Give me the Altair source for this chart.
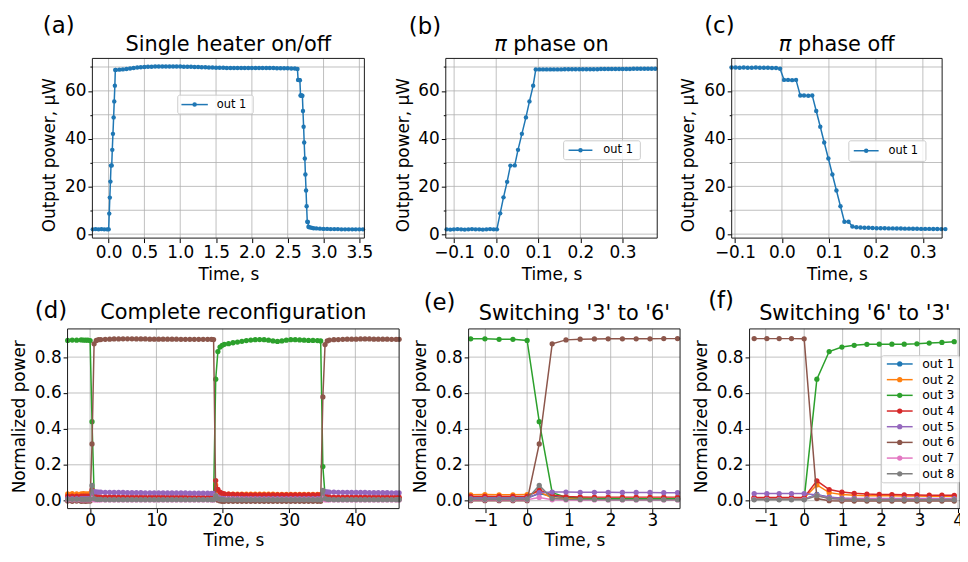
import altair as alt
import pandas as pd

FONT = "DejaVu Sans"
SERIES = ["out 1", "out 2", "out 3", "out 4", "out 5", "out 6", "out 7", "out 8"]
COLORS = ["#1f77b4", "#ff7f0e", "#2ca02c", "#d62728", "#9467bd", "#8c564b", "#e377c2", "#7f7f7f"]

# ---------------- (a) single heater on/off ----------------
a_time = [-0.22, -0.18, -0.14, -0.10, -0.06, -0.02,
          0.0016, 0.0094, 0.0173, 0.0259, 0.0337, 0.044, 0.0518, 0.061, 0.0706, 0.079, 0.0878, 0.094,
          0.10, 0.15, 0.20, 0.25, 0.30, 0.35, 0.40, 0.45, 0.50, 0.55,
          0.60, 0.65, 0.70, 0.75, 0.80, 0.85, 0.90, 0.95, 1.00, 1.05,
          1.10, 1.15, 1.20, 1.25, 1.30, 1.35, 1.40, 1.45, 1.50, 1.55,
          1.60, 1.65, 1.70, 1.75, 1.80, 1.85, 1.90, 1.95, 2.00, 2.05,
          2.10, 2.15, 2.20, 2.25, 2.30, 2.35, 2.40, 2.45, 2.50, 2.55, 2.60,
          2.636, 2.645, 2.653, 2.662, 2.670, 2.679, 2.688, 2.696, 2.705, 2.713,
          2.722, 2.730, 2.739, 2.747, 2.756, 2.764, 2.773, 2.781, 2.790,
          2.80, 2.83, 2.86, 2.90, 2.95, 3.00, 3.05, 3.10, 3.15, 3.20,
          3.25, 3.30, 3.35, 3.40, 3.45, 3.50, 3.55]
a_power = [2.0, 2.1, 2.0, 2.1, 2.0, 2.0,
           2.0, 8.6, 15.3, 22.0, 28.7, 28.8, 35.3, 42.0, 48.9, 55.6, 62.2, 68.8,
           68.8, 68.9, 69.0, 69.2, 69.4, 69.6, 69.8, 69.9, 70.0, 70.1,
           70.1, 70.2, 70.2, 70.2, 70.2, 70.2, 70.2, 70.2, 70.2, 70.1,
           70.1, 70.1, 70.0, 70.0, 69.9, 69.9, 69.8, 69.8, 69.7, 69.7,
           69.7, 69.6, 69.6, 69.6, 69.6, 69.6, 69.6, 69.6, 69.6, 69.6,
           69.6, 69.6, 69.6, 69.6, 69.6, 69.5, 69.5, 69.5, 69.5, 69.4, 69.4,
           69.2, 64.6, 64.6, 64.5, 64.5, 58.1, 58.1, 58.0, 58.0, 51.6,
           45.0, 38.4, 31.7, 25.0, 18.3, 11.7, 5.2, 5.1, 3.1,
           2.9, 2.7, 2.5, 2.4, 2.3, 2.2, 2.2, 2.1, 2.1, 2.1,
           2.0, 2.0, 2.0, 2.0, 2.0, 2.0, 2.0]

# ---------------- (b) pi phase on ----------------
b_time = [-0.1178, -0.1092, -0.1006, -0.0920, -0.0834, -0.0748, -0.0662, -0.0576, -0.0490, -0.0404,
          -0.0318, -0.0232, -0.0146, -0.0060,
          0.0016, 0.0094, 0.0173, 0.0259, 0.0337, 0.0440, 0.0518, 0.0610, 0.0706, 0.0790, 0.0878, 0.0940,
          0.1026, 0.1112, 0.1198, 0.1284, 0.1370, 0.1456, 0.1542, 0.1628, 0.1714, 0.1800,
          0.1886, 0.1972, 0.2058, 0.2144, 0.2230, 0.2316, 0.2402, 0.2488, 0.2574, 0.2660,
          0.2746, 0.2832, 0.2918, 0.3004, 0.3090, 0.3176, 0.3262, 0.3348, 0.3434, 0.3520,
          0.3606, 0.3692, 0.3778]
b_power = [2.0, 1.9, 2.0, 2.1, 2.0, 1.9, 2.0, 2.1, 2.0, 2.0,
           1.9, 2.0, 2.1, 2.0,
           2.0, 8.7, 15.4, 21.9, 28.7, 28.8, 35.3, 42.0, 48.9, 55.6, 62.2, 69.0,
           69.0, 69.0, 69.0, 69.0, 69.0, 69.0, 69.0, 69.1, 69.1, 69.1,
           69.1, 69.1, 69.1, 69.1, 69.1, 69.1, 69.1, 69.2, 69.2, 69.2,
           69.2, 69.2, 69.2, 69.2, 69.2, 69.2, 69.3, 69.3, 69.3, 69.3,
           69.3, 69.3, 69.3]

# ---------------- (c) pi phase off ----------------
c_time = [-0.1072, -0.0986, -0.0900, -0.0814, -0.0728, -0.0642, -0.0556, -0.0470, -0.0384, -0.0298,
          -0.0212, -0.0126, -0.0040,
          0.0045, 0.0130, 0.0216, 0.0300, 0.0390, 0.0470, 0.0560, 0.0645, 0.0730, 0.0816,
          0.0900, 0.0988, 0.1074, 0.1160, 0.1246, 0.1330, 0.1418, 0.1500,
          0.1586, 0.1672, 0.1758, 0.1844, 0.1930, 0.2016, 0.2102, 0.2188, 0.2274, 0.2360,
          0.2446, 0.2532, 0.2618, 0.2704, 0.2790, 0.2876, 0.2962, 0.3048, 0.3134, 0.3220,
          0.3306, 0.3392, 0.3478]
c_power = [69.8, 69.8, 69.7, 69.8, 69.7, 69.7, 69.8, 69.7, 69.7, 69.7,
           69.6, 69.6, 69.3,
           64.6, 64.6, 64.5, 64.6, 58.1, 58.1, 58.0, 58.1, 51.6, 45.0,
           38.4, 31.7, 25.0, 18.3, 11.7, 5.2, 5.2, 3.2,
           2.9, 2.8, 2.7, 2.65, 2.6, 2.5, 2.5, 2.45, 2.4, 2.4,
           2.35, 2.35, 2.3, 2.3, 2.25, 2.25, 2.2, 2.2, 2.2, 2.15,
           2.15, 2.1, 2.1]

# ---------------- (d) complete reconfiguration ----------------
d_time = [-3.38, -2.70, -2.03, -1.35, -1.01, -0.67, -0.34, 0.00,
          0.29, 0.60, 0.93, 1.27, 1.61,
          2.28, 2.95, 3.62, 4.30, 4.97, 5.64, 6.31, 6.98, 7.65, 8.32,
          9.00, 9.67, 10.34, 11.01, 11.68, 12.35, 13.02, 13.70, 14.37, 15.04,
          15.71, 16.38, 17.05, 17.72, 18.30, 18.62,
          18.94, 19.27, 19.59, 19.92, 20.24,
          20.88, 21.55, 22.22, 22.89, 23.56, 24.23, 24.90, 25.57, 26.24, 26.91,
          27.58, 28.25, 28.92, 29.59, 30.26, 30.93, 31.60, 32.27, 32.94, 33.61,
          34.28, 34.77,
          35.10, 35.43, 35.76, 36.09,
          36.76, 37.43, 38.10, 38.77, 39.44, 40.11, 40.78, 41.45, 42.12, 42.79,
          43.46, 44.13, 44.80, 45.47, 46.14, 46.60]
d_out1 = [0.015, 0.015, 0.015, 0.015, 0.015, 0.015, 0.015, 0.015,
          0.040, 0.025, 0.015, 0.012, 0.011,
          0.010, 0.010, 0.010, 0.010, 0.010, 0.010, 0.010, 0.010, 0.010, 0.010,
          0.010, 0.010, 0.010, 0.010, 0.010, 0.010, 0.010, 0.010, 0.010, 0.010,
          0.010, 0.010, 0.010, 0.010, 0.010, 0.010,
          0.035, 0.020, 0.013, 0.011, 0.010,
          0.010, 0.010, 0.010, 0.010, 0.010, 0.010, 0.010, 0.010, 0.010, 0.010,
          0.010, 0.010, 0.010, 0.010, 0.010, 0.010, 0.010, 0.010, 0.010, 0.010,
          0.010, 0.010,
          0.040, 0.020, 0.013, 0.011,
          0.010, 0.010, 0.010, 0.010, 0.010, 0.010, 0.010, 0.010, 0.010, 0.010,
          0.010, 0.010, 0.010, 0.010, 0.010, 0.010]
d_out2 = [0.038, 0.039, 0.038, 0.038, 0.039, 0.038, 0.038, 0.039,
          0.050, 0.015, 0.013, 0.012, 0.012,
          0.013, 0.013, 0.013, 0.013, 0.013, 0.013, 0.013, 0.013, 0.013, 0.013,
          0.013, 0.013, 0.013, 0.013, 0.013, 0.013, 0.013, 0.013, 0.013, 0.013,
          0.013, 0.013, 0.013, 0.013, 0.013, 0.013,
          0.088, 0.047, 0.040, 0.038, 0.037,
          0.037, 0.037, 0.036, 0.036, 0.036, 0.036, 0.036, 0.036, 0.036, 0.036,
          0.036, 0.035, 0.035, 0.035, 0.035, 0.035, 0.035, 0.035, 0.035, 0.035,
          0.035, 0.035,
          0.050, 0.015, 0.013, 0.012,
          0.012, 0.012, 0.012, 0.012, 0.012, 0.012, 0.012, 0.012, 0.012, 0.012,
          0.012, 0.012, 0.012, 0.012, 0.012, 0.012]
d_out3 = [0.893, 0.895, 0.894, 0.896, 0.895, 0.894, 0.894, 0.892,
          0.440, 0.045, 0.020, 0.015, 0.013,
          0.012, 0.012, 0.011, 0.011, 0.011, 0.011, 0.010, 0.010, 0.010, 0.010,
          0.010, 0.010, 0.010, 0.010, 0.010, 0.010, 0.010, 0.010, 0.010, 0.010,
          0.010, 0.010, 0.010, 0.010, 0.010, 0.010,
          0.677, 0.831, 0.856, 0.866, 0.871,
          0.875, 0.880, 0.884, 0.888, 0.892, 0.895, 0.897, 0.898, 0.897, 0.894,
          0.890, 0.887, 0.890, 0.894, 0.897, 0.897, 0.896, 0.894, 0.893, 0.893,
          0.892, 0.890,
          0.190, 0.030, 0.015, 0.012,
          0.011, 0.011, 0.010, 0.010, 0.010, 0.010, 0.010, 0.010, 0.010, 0.010,
          0.010, 0.010, 0.010, 0.010, 0.010, 0.010]
d_out4 = [0.026, 0.026, 0.026, 0.026, 0.026, 0.026, 0.026, 0.026,
          0.060, 0.030, 0.023, 0.021, 0.020,
          0.021, 0.021, 0.021, 0.020, 0.020, 0.020, 0.020, 0.020, 0.020, 0.020,
          0.020, 0.020, 0.020, 0.020, 0.020, 0.020, 0.020, 0.020, 0.020, 0.019,
          0.019, 0.019, 0.019, 0.019, 0.019, 0.019,
          0.112, 0.063, 0.048, 0.041, 0.038,
          0.036, 0.035, 0.034, 0.034, 0.033, 0.033, 0.033, 0.032, 0.032, 0.032,
          0.032, 0.032, 0.032, 0.032, 0.032, 0.032, 0.032, 0.032, 0.032, 0.032,
          0.032, 0.032,
          0.045, 0.028, 0.023, 0.021,
          0.020, 0.020, 0.020, 0.020, 0.020, 0.020, 0.020, 0.020, 0.020, 0.020,
          0.020, 0.020, 0.020, 0.020, 0.020, 0.020]
d_out5 = [0.012, 0.012, 0.012, 0.012, 0.012, 0.012, 0.012, 0.012,
          0.045, 0.050, 0.049, 0.048, 0.048,
          0.047, 0.047, 0.046, 0.046, 0.046, 0.045, 0.045, 0.045, 0.045, 0.044,
          0.044, 0.044, 0.044, 0.044, 0.043, 0.043, 0.043, 0.043, 0.043, 0.042,
          0.042, 0.042, 0.042, 0.042, 0.041, 0.041,
          0.030, 0.020, 0.015, 0.013, 0.012,
          0.012, 0.012, 0.011, 0.011, 0.011, 0.011, 0.011, 0.011, 0.011, 0.011,
          0.011, 0.011, 0.011, 0.011, 0.011, 0.011, 0.011, 0.011, 0.011, 0.011,
          0.011, 0.011,
          0.045, 0.050, 0.049, 0.048,
          0.048, 0.047, 0.047, 0.047, 0.046, 0.046, 0.046, 0.046, 0.045, 0.045,
          0.045, 0.045, 0.045, 0.044, 0.044, 0.044]
d_out6 = [-0.002, -0.003, -0.002, -0.003, -0.002, -0.003, -0.002, -0.002,
          0.316, 0.874, 0.893, 0.897, 0.898,
          0.899, 0.900, 0.901, 0.901, 0.902, 0.902, 0.902, 0.901, 0.901, 0.901,
          0.900, 0.900, 0.900, 0.900, 0.900, 0.900, 0.900, 0.899, 0.899, 0.899,
          0.899, 0.899, 0.899, 0.899, 0.899, 0.898,
          0.012, 0.003, -0.001, -0.003, -0.003,
          -0.003, -0.003, -0.003, -0.003, -0.003, -0.003, -0.003, -0.003, -0.003, -0.003,
          -0.003, -0.003, -0.003, -0.003, -0.003, -0.003, -0.003, -0.003, -0.003, -0.003,
          -0.003, -0.003,
          0.578, 0.870, 0.890, 0.895,
          0.897, 0.898, 0.899, 0.900, 0.900, 0.900, 0.901, 0.901, 0.901, 0.900,
          0.900, 0.900, 0.900, 0.899, 0.899, 0.899]
d_out7 = [0.005, 0.005, 0.005, 0.005, 0.005, 0.005, 0.005, 0.005,
          0.015, 0.005, 0.004, 0.004, 0.004,
          0.004, 0.004, 0.004, 0.004, 0.004, 0.004, 0.004, 0.004, 0.004, 0.004,
          0.004, 0.004, 0.004, 0.004, 0.004, 0.004, 0.004, 0.004, 0.004, 0.004,
          0.004, 0.004, 0.004, 0.004, 0.004, 0.004,
          0.030, 0.012, 0.008, 0.007, 0.007,
          0.007, 0.007, 0.007, 0.007, 0.007, 0.007, 0.007, 0.007, 0.007, 0.007,
          0.007, 0.007, 0.007, 0.007, 0.007, 0.007, 0.007, 0.007, 0.007, 0.007,
          0.007, 0.007,
          0.015, 0.005, 0.004, 0.004,
          0.004, 0.004, 0.004, 0.004, 0.004, 0.004, 0.004, 0.004, 0.004, 0.004,
          0.004, 0.004, 0.004, 0.004, 0.004, 0.004]
d_out8 = [0.008, 0.008, 0.008, 0.008, 0.008, 0.008, 0.008, 0.008,
          0.085, 0.012, 0.008, 0.007, 0.007,
          0.006, 0.006, 0.006, 0.006, 0.006, 0.006, 0.006, 0.006, 0.006, 0.006,
          0.006, 0.006, 0.006, 0.006, 0.006, 0.006, 0.006, 0.006, 0.006, 0.006,
          0.006, 0.006, 0.006, 0.006, 0.006, 0.006,
          0.028, 0.012, 0.008, 0.007, 0.006,
          0.006, 0.006, 0.006, 0.006, 0.006, 0.006, 0.006, 0.006, 0.006, 0.006,
          0.006, 0.006, 0.006, 0.006, 0.006, 0.006, 0.006, 0.006, 0.006, 0.006,
          0.006, 0.006,
          0.057, 0.012, 0.008, 0.007,
          0.006, 0.006, 0.006, 0.006, 0.006, 0.006, 0.006, 0.006, 0.006, 0.006,
          0.006, 0.006, 0.006, 0.006, 0.006, 0.006]

# ---------------- (e) switching '3' to '6' ----------------
e_time = [-1.35, -1.01, -0.67, -0.34, 0.00, 0.29, 0.60, 0.93, 1.27, 1.61, 1.94, 2.28, 2.61, 2.94, 3.27, 3.60]
e_out1 = [0.015, 0.015, 0.015, 0.015, 0.015, 0.040, 0.025, 0.015, 0.012, 0.011, 0.010, 0.010, 0.010, 0.010, 0.010, 0.010]
e_out2 = [0.033, 0.034, 0.033, 0.033, 0.034, 0.050, 0.015, 0.013, 0.012, 0.012, 0.012, 0.012, 0.012, 0.012, 0.012, 0.012]
e_out3 = [0.902, 0.902, 0.899, 0.899, 0.893, 0.440, 0.045, 0.020, 0.015, 0.013, 0.012, 0.012, 0.011, 0.011, 0.011, 0.011]
e_out4 = [0.024, 0.024, 0.024, 0.024, 0.024, 0.061, 0.030, 0.023, 0.021, 0.020, 0.020, 0.020, 0.020, 0.020, 0.020, 0.020]
e_out5 = [0.012, 0.012, 0.012, 0.012, 0.012, 0.045, 0.048, 0.048, 0.047, 0.047, 0.047, 0.046, 0.046, 0.046, 0.045, 0.045]
e_out6 = [0.000, 0.000, 0.000, 0.000, 0.000, 0.316, 0.874, 0.896, 0.900, 0.901, 0.902, 0.902, 0.902, 0.902, 0.903, 0.903]
e_out7 = [0.005, 0.005, 0.005, 0.005, 0.005, 0.018, 0.005, 0.004, 0.004, 0.004, 0.004, 0.004, 0.004, 0.004, 0.004, 0.004]
e_out8 = [0.008, 0.008, 0.008, 0.008, 0.008, 0.085, 0.012, 0.008, 0.007, 0.007, 0.006, 0.006, 0.006, 0.006, 0.006, 0.006]

# ---------------- (f) switching '6' to '3' ----------------
f_time = [-1.30, -0.97, -0.65, -0.33, 0.00, 0.33, 0.65, 0.98, 1.30, 1.63, 1.95, 2.28, 2.60, 2.93, 3.25, 3.58, 3.90]
f_out1 = [0.010, 0.010, 0.010, 0.010, 0.010, 0.035, 0.020, 0.013, 0.011, 0.010, 0.010, 0.010, 0.010, 0.010, 0.010, 0.010, 0.010]
f_out2 = [0.015, 0.015, 0.015, 0.015, 0.015, 0.088, 0.045, 0.035, 0.030, 0.028, 0.027, 0.027, 0.026, 0.026, 0.025, 0.025, 0.025]
f_out3 = [0.010, 0.010, 0.010, 0.010, 0.010, 0.677, 0.831, 0.856, 0.866, 0.871, 0.872, 0.872, 0.872, 0.874, 0.878, 0.882, 0.886]
f_out4 = [0.018, 0.018, 0.018, 0.018, 0.018, 0.111, 0.062, 0.048, 0.041, 0.037, 0.035, 0.034, 0.033, 0.032, 0.031, 0.031, 0.030]
f_out5 = [0.040, 0.040, 0.040, 0.040, 0.040, 0.032, 0.020, 0.015, 0.013, 0.012, 0.012, 0.012, 0.012, 0.012, 0.012, 0.012, 0.012]
f_out6 = [0.903, 0.903, 0.903, 0.903, 0.902, 0.012, 0.000, -0.002, -0.002, -0.002, -0.002, -0.002, -0.002, -0.002, -0.002, -0.002, -0.002]
f_out7 = [0.008, 0.008, 0.008, 0.008, 0.008, 0.030, 0.012, 0.008, 0.008, 0.008, 0.008, 0.008, 0.008, 0.008, 0.008, 0.008, 0.008]
f_out8 = [0.005, 0.005, 0.005, 0.005, 0.005, 0.028, 0.012, 0.008, 0.007, 0.006, 0.006, 0.006, 0.006, 0.006, 0.006, 0.006, 0.006]

# tick values
a_ticks = [0.0, 0.5, 1.0, 1.5, 2.0, 2.5, 3.0, 3.5]
bc_ticks = [-0.1, 0.0, 0.1, 0.2, 0.3]
d_ticks = [0, 10, 20, 30, 40]
e_ticks = [-1, 0, 1, 2, 3]
f_ticks = [-1, 0, 1, 2, 3, 4]
pw_ticks = [0, 10, 20, 30, 40, 50, 60, 70]
np_ticks = [0.0, 0.2, 0.4, 0.6, 0.8]

W_TOTAL, H_TOTAL = 959, 541
ONE = pd.DataFrame({"k": [0]})
GRID = "#b0b0b0"


def long_df(time, named):
    rows = []
    for name, vals in named:
        for t, v in zip(time, vals):
            rows.append({"series": name, "t": t, "v": v})
    return pd.DataFrame(rows)


def text_at(txt, x, y, size, align="left", baseline="alphabetic", style="normal"):
    return alt.Chart(ONE).mark_text(font=FONT, fontSize=size, align=align, baseline=baseline,
                                    fontStyle=style, color="black").encode(
        x=alt.value(x), y=alt.value(y), text=alt.value(txt))


def legend_rows(box, ox, oy, names, lx1, lx2, px, tx, y0, dy, size, fs):
    x1, x2, y1, y2 = box
    out = [alt.Chart(ONE).mark_rect(fill="white", fillOpacity=0.8, stroke="#cccccc", strokeWidth=1,
                                    cornerRadius=2).encode(
        x=alt.value(ox + x1), x2=alt.value(ox + x2), y=alt.value(oy + y1), y2=alt.value(oy + y2))]
    for i, name in enumerate(names):
        col = COLORS[SERIES.index(name)]
        y = oy + y0 + i * dy
        out.append(alt.Chart(ONE).mark_rule(color=col, strokeWidth=1.5).encode(
            x=alt.value(ox + lx1), x2=alt.value(ox + lx2), y=alt.value(y)))
        out.append(alt.Chart(ONE).mark_circle(color=col, size=size, opacity=1).encode(
            x=alt.value(ox + px), y=alt.value(y)))
        out.append(text_at(name, ox + tx, y, fs, baseline="middle"))
    return out


def panel(df, names, box, xdom, ydom, xticks, xfmt, kind, size, xty, lpad, tsize, extras):
    ox, oy, w, h = box
    SX = alt.Scale(domain=xdom, range=[ox, ox + w], nice=False, zero=False)
    SY = alt.Scale(domain=ydom, range=[oy + h, oy], nice=False, zero=False)
    AX = alt.Axis(orient="bottom", offset=oy + h - H_TOTAL, values=xticks, format=xfmt,
                  title="Time, s", titleX=ox + w / 2, titleY=xty, titleAlign="center",
                  titleBaseline="alphabetic", grid=False, labelFlush=False, labelOverlap=False,
                  labelPadding=lpad, tickSize=tsize)
    if kind == "power":
        yticks = pw_ticks
        AY = alt.Axis(orient="left", offset=-ox, values=pw_ticks, title="Output power, μW",
                      titleX=-38, titleY=oy + 97, titleAngle=270, titleAlign="center",
                      titleBaseline="alphabetic", grid=False, labelOverlap=False,
                      labelExpr="datum.value % 20 == 0 ? datum.label : ''",
                      tickSize={"condition": {"test": "datum.value % 20 != 0", "value": 2.5}, "value": 4.5})
    else:
        yticks = np_ticks
        AY = alt.Axis(orient="left", offset=-ox, values=np_ticks, format=".1f", title="Normalized power",
                      titleX=-43, titleY=oy + 88, titleAngle=270, titleAlign="center",
                      titleBaseline="alphabetic", grid=False, labelOverlap=False)
    X = alt.X("t:Q", scale=SX, axis=AX)
    Y = alt.Y("v:Q", scale=SY, axis=AY)
    layers = [
        alt.Chart(pd.DataFrame({"t": xticks})).mark_rule(color=GRID, strokeWidth=0.8).encode(
            x=X, y=alt.value(oy), y2=alt.value(oy + h)),
        alt.Chart(pd.DataFrame({"v": yticks})).mark_rule(color=GRID, strokeWidth=0.8).encode(
            y=Y, x=alt.value(ox), x2=alt.value(ox + w)),
    ]
    base = alt.Chart(df).encode(x=X, y=Y)
    for name in names:
        col = COLORS[SERIES.index(name)]
        sub = base.transform_filter(alt.datum.series == name)
        layers.append(sub.mark_line(color=col, strokeWidth=1.5))
        layers.append(sub.mark_circle(color=col, size=size, opacity=1))
    layers.append(alt.Chart(ONE).mark_rect(fillOpacity=0, stroke="#1a1a1a", strokeWidth=1).encode(
        x=alt.value(ox), x2=alt.value(ox + w), y=alt.value(oy), y2=alt.value(oy + h)))
    return alt.layer(*layers, *extras)


def pi_title(rest, ox, oy, w, rest_em):
    fs = 21
    pi_w = 0.602 * fs
    sp_w = 0.318 * fs
    total = pi_w + sp_w + rest_em * fs
    start = ox + w / 2 - total / 2
    return [text_at("π", start, oy - 7.7, fs, align="left", style="italic"),
            text_at(rest, start + pi_w + sp_w, oy - 7.7, fs, align="left")]


PW_DOM = [-1.66, 73.6]
NP_DOM = [-0.044, 0.957]

# panel boxes (x, y, width, height) in chart pixels
TOP_Y = 48.8
BOT_Y = 321.3
BA = (85, TOP_Y, 274, 181)
BB = (441, TOP_Y, 213, 181)
BC = (729, TOP_Y, 212, 181)
BD = (60, BOT_Y, 334, 181)
BE = (464, BOT_Y, 213, 181)
BF = (747, BOT_Y, 212, 181)
TOP_XT = 41.5
BOT_XT = 539.3 - (BOT_Y + 181)

pa = panel(long_df(a_time, [("out 1", a_power)]), ["out 1"], BA, [-0.226, 3.570], PW_DOM,
           a_ticks, ".1f", "power", 20, TOP_XT, 2, 4.5,
           [text_at("(a)", BA[0] - 50, BA[1] - 25.3, 23),
            text_at("Single heater on/off", BA[0] + BA[2] / 2, BA[1] - 7.7, 21, align="center")]
           + legend_rows((86, 162, 37, 56), BA[0], BA[1], ["out 1"], 89.7, 116.3, 103, 125.3, 46.5, 0, 20, 11.5))

pb = panel(long_df(b_time, [("out 1", b_power)]), ["out 1"], BB, [-0.1198, 0.3825], PW_DOM,
           bc_ticks, ".1f", "power", 20, TOP_XT, 2, 4.5,
           [text_at("(b)", BB[0] - 37.3, BB[1] - 24.7, 23)] + pi_title("phase on", BB[0], BB[1], BB[2], 4.582)
           + legend_rows((118.7, 196, 83, 102), BB[0], BB[1], ["out 1"], 123.7, 147.7, 135.7, 158.7, 92.5, 0, 20, 11.5))

pc = panel(long_df(c_time, [("out 1", c_power)]), ["out 1"], BC, [-0.107, 0.341], PW_DOM,
           bc_ticks, ".1f", "power", 20, TOP_XT, 2, 4.5,
           [text_at("(c)", BC[0] - 27.7, BC[1] - 25.3, 23)] + pi_title("phase off", BC[0], BC[1], BC[2], 4.652)
           + legend_rows((118, 195.7, 83, 103.7), BC[0], BC[1], ["out 1"], 123, 148, 135.5, 158, 93, 0, 20, 11.5))

d_df = long_df(d_time, list(zip(SERIES, [d_out1, d_out2, d_out3, d_out4, d_out5, d_out6, d_out7, d_out8])))
pdd = panel(d_df, SERIES, BD, [-3.4, 46.6], NP_DOM, d_ticks, "d", "norm", 28, BOT_XT, 0.5, 4,
            [text_at("(d)", BD[0] - 33, BD[1] - 11.3, 23),
             text_at("Complete reconfiguration", BD[0] + BD[2] / 2, BD[1] - 9.7, 21, align="center")])

e_df = long_df(e_time, list(zip(SERIES, [e_out1, e_out2, e_out3, e_out4, e_out5, e_out6, e_out7, e_out8])))
pe = panel(e_df, SERIES, BE, [-1.40, 3.66], NP_DOM, e_ticks, "d", "norm", 28, BOT_XT, 0.5, 4,
           [text_at("(e)", BE[0] - 45.3, BE[1] - 19.5, 23),
            text_at("Switching '3' to '6'", BE[0] + BE[2] / 2, BE[1] - 9.0, 21, align="center")])

f_df = long_df(f_time, list(zip(SERIES, [f_out1, f_out2, f_out3, f_out4, f_out5, f_out6, f_out7, f_out8])))
pf = panel(f_df, SERIES, BF, [-1.42, 4.05], NP_DOM, f_ticks, "d", "norm", 28, BOT_XT, 0.5, 4,
           [text_at("(f)", BF[0] - 41.7, BF[1] - 21, 23),
            text_at("Switching '6' to '3'", BF[0] + BF[2] / 2, BF[1] - 9.0, 21, align="center")]
           + legend_rows((133, 211.7, 27, 155), BF[0], BF[1], SERIES, 138.3, 164.3, 151.3, 174, 35.3, 15.8, 28, 12.5))

chart = alt.layer(pa, pb, pc, pdd, pe, pf).resolve_scale(
    x="independent", y="independent"
).resolve_axis(
    x="independent", y="independent"
).properties(
    width=W_TOTAL, height=H_TOTAL,
    autosize=alt.AutoSizeParams(type="none"),
    padding=0,
    background="white",
).configure_view(
    strokeOpacity=0,
).configure_axis(
    labelFont=FONT, labelFontSize=17, labelColor="black",
    titleFont=FONT, titleFontSize=17, titleFontWeight="normal", titleColor="black",
    tickColor="black", tickWidth=1, tickSize=4.5, labelPadding=2, domain=False,
)

chart.save("out.html", embed_options={"renderer": "svg", "actions": False})
